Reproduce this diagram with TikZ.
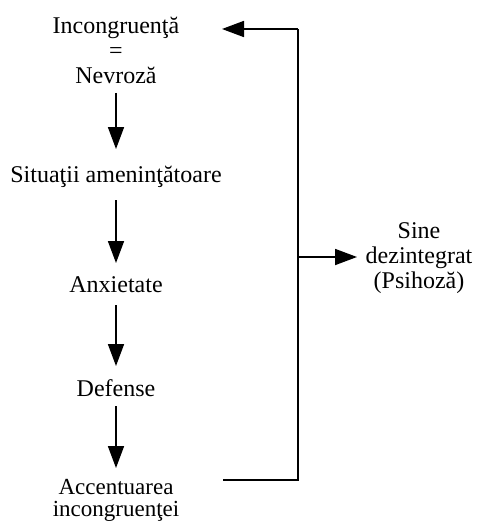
\documentclass[tikz,border=0pt]{standalone}
\usepackage{fontspec}
\setmainfont{Liberation Serif}
\usetikzlibrary{arrows.meta}
\tikzset{
  label/.style={inner sep=0pt, align=center, font=\fontsize{24}{25}\selectfont},
  flow/.style={line width=1.8pt, -{Triangle[length=22pt,width=16pt]}},
  rail/.style={line width=1.8pt}
}
\begin{document}
\begin{tikzpicture}[x=1pt,y=1pt]
  \useasboundingbox (0,0) rectangle (480,-524);
  % main chain
  \node[label] (top) at (116,-50) {Incongruenţă\\=\\Nevroză};
  \node[label] (sit) at (116,-177) {Situaţii ameninţătoare};
  \node[label] (anx) at (116,-285) {Anxietate};
  \node[label] (def) at (116,-388) {Defense};
  \node[label, font=\fontsize{23}{22}\selectfont] (acc) at (116,-500) {Accentuarea\\incongruenţei};
  \node[label] (sine) at (419,-258) {Sine\\dezintegrat\\(Psihoză)};
  % downward arrows
  \draw[flow] (116,-93) coordinate (a1) -- (116,-149) coordinate (a1e);
  \draw[flow] (116,-200) coordinate (a2) -- (116,-263) coordinate (a2e);
  \draw[flow] (116,-305) coordinate (a3) -- (116,-366) coordinate (a3e);
  \draw[flow] (116,-406) coordinate (a4) -- (116,-468) coordinate (a4e);
  % feedback rail
  \coordinate (fbout) at (223,-480);
  \coordinate (fbin) at (222,-29);
  \coordinate (railb) at (298,-480);
  \coordinate (railt) at (298,-29);
  \coordinate (railm) at (298,-257);
  \draw[rail] (fbout) -- (railb) -- (railt);
  \draw[flow] (railt) -- (fbin);
  \draw[flow] (railm) -- (357,-257);
\end{tikzpicture}
\end{document}
